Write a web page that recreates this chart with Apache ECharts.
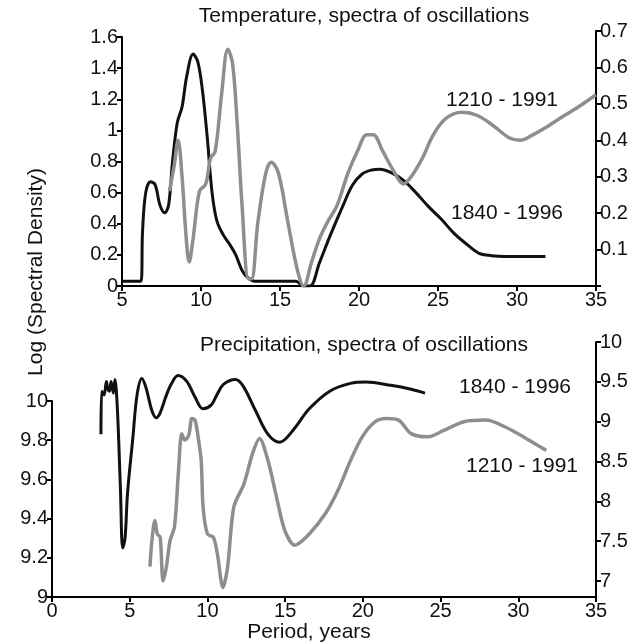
<!DOCTYPE html>
<html>
<head>
<meta charset="utf-8">
<title>Spectra of oscillations</title>
<script src="https://cdn.jsdelivr.net/npm/echarts@6/dist/echarts.min.js"></script>
<style>
html, body { margin: 0; padding: 0; background: #fff; }
#main { width: 640px; height: 644px; }
</style>
</head>
<body>
<div id="main"></div>
<script>
// temperature, 1840 - 1996 (left axis)
let tempNewPeriod = [5, 6.2, 6.3, 6.5, 6.8, 7.1, 7.4, 7.7, 7.95, 8.2, 8.5, 8.8, 9.1, 9.5, 9.8, 10.1, 10.4, 10.7, 11.0, 11.4, 11.8, 12.2, 12.6, 13.0, 13.4, 16.0, 16.5, 16.9, 17.5, 18.2, 19, 19.6, 20.2, 20.8, 21.3, 22, 22.8, 23.6, 24.4, 25.2, 26, 26.8, 27.6, 28.4, 29.2, 30.5, 31.8];
let tempNewDensity = [0.03, 0.03, 0.35, 0.6, 0.67, 0.65, 0.52, 0.47, 0.52, 0.8, 1.05, 1.15, 1.35, 1.49, 1.44, 1.25, 0.95, 0.6, 0.42, 0.33, 0.27, 0.2, 0.1, 0.05, 0.03, 0.03, 0.0, 0.0, 0.15, 0.33, 0.52, 0.65, 0.72, 0.745, 0.75, 0.73, 0.68, 0.6, 0.51, 0.43, 0.34, 0.27, 0.21, 0.195, 0.19, 0.19, 0.19];

// temperature, 1210 - 1991 (right axis)
let tempOldPeriod = [8.0, 8.3, 8.55, 8.8, 9.05, 9.25, 9.5, 9.9, 10.3, 10.6, 10.9, 11.3, 11.7, 12.0, 12.3, 12.6, 13.0, 13.2, 13.6, 14.1, 14.45, 14.9, 15.5, 16.1, 16.5, 17.0, 17.5, 18.0, 18.6, 19.3, 19.9, 20.5, 20.9, 21.5, 22.2, 22.8, 23.3, 24.0, 24.7, 25.5, 26.5, 27.5, 28.5, 29.5, 30.2, 31, 32, 33, 34, 35];
let tempOldDensity = [0.26, 0.33, 0.40, 0.30, 0.14, 0.066, 0.13, 0.26, 0.28, 0.35, 0.37, 0.525, 0.65, 0.61, 0.44, 0.22, 0.02, 0.02, 0.175, 0.31, 0.34, 0.31, 0.175, 0.044, 0.0, 0.066, 0.13, 0.175, 0.22, 0.31, 0.37, 0.415, 0.415, 0.37, 0.315, 0.28, 0.3, 0.35, 0.415, 0.46, 0.477, 0.468, 0.44, 0.407, 0.40, 0.415, 0.44, 0.468, 0.495, 0.525];

// precipitation, 1840 - 1996 (left axis)
let precNewPeriod = [3.15, 3.2, 3.35, 3.5, 3.6, 3.7, 3.8, 3.95, 4.05, 4.2, 4.4, 4.55, 4.7, 4.86, 5.2, 5.47, 5.78, 6.04, 6.43, 6.7, 6.96, 7.36, 7.7, 8.1, 8.67, 9.2, 9.72, 10.25, 10.6, 11.03, 11.8, 12.3, 13.1, 13.9, 14.66, 15.5, 16.55, 17.87, 19.2, 20.2, 21.8, 23.1, 24];
let precNewDensity = [9.83, 10.05, 10.03, 10.1, 10.06, 10.05, 10.1, 10.04, 10.11, 9.97, 9.56, 9.25, 9.3, 9.53, 9.81, 10.03, 10.115, 10.07, 9.95, 9.915, 9.94, 10.03, 10.09, 10.13, 10.1, 10.02, 9.96, 9.98, 10.03, 10.085, 10.11, 10.076, 9.95, 9.83, 9.79, 9.85, 9.96, 10.05, 10.09, 10.097, 10.08, 10.06, 10.04];

// precipitation, 1210 - 1991 (right axis)
let precOldPeriod = [6.3, 6.43, 6.62, 6.78, 6.96, 7.15, 7.36, 7.6, 7.88, 8.14, 8.35, 8.54, 8.8, 9.0, 9.2, 9.4, 9.6, 9.72, 10.0, 10.38, 10.64, 11.0, 11.3, 11.7, 12.35, 12.9, 13.35, 13.9, 14.45, 14.97, 15.63, 16.55, 17.6, 18.4, 19.2, 19.96, 20.8, 21.5, 22.3, 23.1, 24.2, 25.2, 26.5, 27.9, 29.2, 30.5, 31.8];
let precOldDensity = [7.18, 7.51, 7.76, 7.59, 7.55, 7.0, 7.18, 7.51, 7.68, 8.39, 8.85, 8.77, 8.83, 9.04, 9.02, 8.81, 8.51, 7.93, 7.59, 7.55, 7.34, 6.92, 7.18, 7.93, 8.22, 8.6, 8.79, 8.51, 8.05, 7.64, 7.45, 7.59, 7.85, 8.14, 8.51, 8.81, 9.0, 9.04, 9.02, 8.85, 8.81, 8.89, 9.0, 9.02, 8.93, 8.79, 8.64];

let precRightTicks = [7, 7.5, 8, 8.5, 9, 9.5, 10];

(function () {
    let font = 'Liberation Sans, Arial, sans-serif';
    let ink = '#111';
    let grayInk = '#8e8e8e';
    let tickSize = 20;
    let textSize = 21;

    let zip = function (xs, ys) {
        return xs.map(function (x, i) { return [x, ys[i]]; });
    };

    let axisBase = function (extra) {
        let ax = {
            type: 'value',
            splitLine: { show: false },
            axisLine: { show: true, onZero: false, lineStyle: { color: '#000', width: 2 } },
            axisTick: { show: true, length: 5, lineStyle: { color: '#000', width: 2 } },
            axisLabel: { color: ink, fontSize: tickSize, fontFamily: font, margin: 4 }
        };
        return Object.assign(ax, extra);
    };

    let text = function (str, x, y, rotation) {
        return {
            type: 'text',
            x: x, y: y,
            rotation: rotation || 0,
            style: {
                text: str, fill: ink, font: textSize + 'px ' + font,
                textAlign: 'center', textVerticalAlign: 'middle'
            }
        };
    };

    let myChart = echarts.init(document.getElementById('main'));

    let option = {
        backgroundColor: '#fff',
        animation: false,
        grid: [
            { left: 122, right: 44, top: 37, bottom: 358 },
            { left: 122, right: 44, top: 31, bottom: 358 },
            { left: 52, right: 44, top: 342, bottom: 47 },
            { left: 52, right: 44, top: 401, bottom: 47 }
        ],
        xAxis: [
            axisBase({ gridIndex: 0, min: 5, max: 35, interval: 5 }),
            axisBase({ gridIndex: 1, min: 5, max: 35, interval: 5, show: false }),
            axisBase({ gridIndex: 2, min: 0, max: 35, interval: 5 }),
            axisBase({ gridIndex: 3, min: 0, max: 35, interval: 5, show: false })
        ],
        yAxis: [
            axisBase({ gridIndex: 0, position: 'left', min: 0, max: 1.6, interval: 0.2 }),
            axisBase({
                gridIndex: 1, position: 'right', min: 0, max: 0.7, interval: 0.1,
                axisLabel: {
                    color: ink, fontSize: tickSize, fontFamily: font, margin: 4,
                    formatter: function (v) { return v === 0 ? '' : v; }
                }
            }),
            axisBase({
                gridIndex: 2, position: 'right', min: 6.8, max: 10,
                axisTick: { show: true, length: 5, customValues: precRightTicks, lineStyle: { color: '#000', width: 2 } },
                axisLabel: { color: ink, fontSize: tickSize, fontFamily: font, margin: 4, customValues: precRightTicks }
            }),
            axisBase({ gridIndex: 3, position: 'left', min: 9, max: 10, interval: 0.2 })
        ],
        series: [
            {
                name: '1840 - 1996', type: 'line', xAxisIndex: 0, yAxisIndex: 0,
                data: zip(tempNewPeriod, tempNewDensity), showSymbol: false, smooth: 0.35,
                lineStyle: { color: '#111', width: 3 }
            },
            {
                name: '1210 - 1991', type: 'line', xAxisIndex: 1, yAxisIndex: 1,
                data: zip(tempOldPeriod, tempOldDensity), showSymbol: false, smooth: 0.35,
                lineStyle: { color: grayInk, width: 3.5 }
            },
            {
                name: '1210 - 1991', type: 'line', xAxisIndex: 2, yAxisIndex: 2,
                data: zip(precOldPeriod, precOldDensity), showSymbol: false, smooth: 0.3,
                lineStyle: { color: grayInk, width: 3.5 }
            },
            {
                name: '1840 - 1996', type: 'line', xAxisIndex: 3, yAxisIndex: 3,
                data: zip(precNewPeriod, precNewDensity), showSymbol: false, smooth: 0.35,
                clip: false,
                lineStyle: { color: '#111', width: 3 }
            }
        ],
        graphic: [
            text('Temperature, spectra of oscillations', 364, 16),
            text('1210 - 1991', 502, 100),
            text('1840 - 1996', 507, 213),
            text('Precipitation, spectra of oscillations', 364, 345),
            text('1840 - 1996', 515, 387),
            text('1210 - 1991', 522, 466),
            text('Log (Spectral Density)', 36, 272, Math.PI / 2),
            text('Period, years', 309, 632)
        ]
    };

    myChart.setOption(option);
})();
</script>
</body>
</html>
